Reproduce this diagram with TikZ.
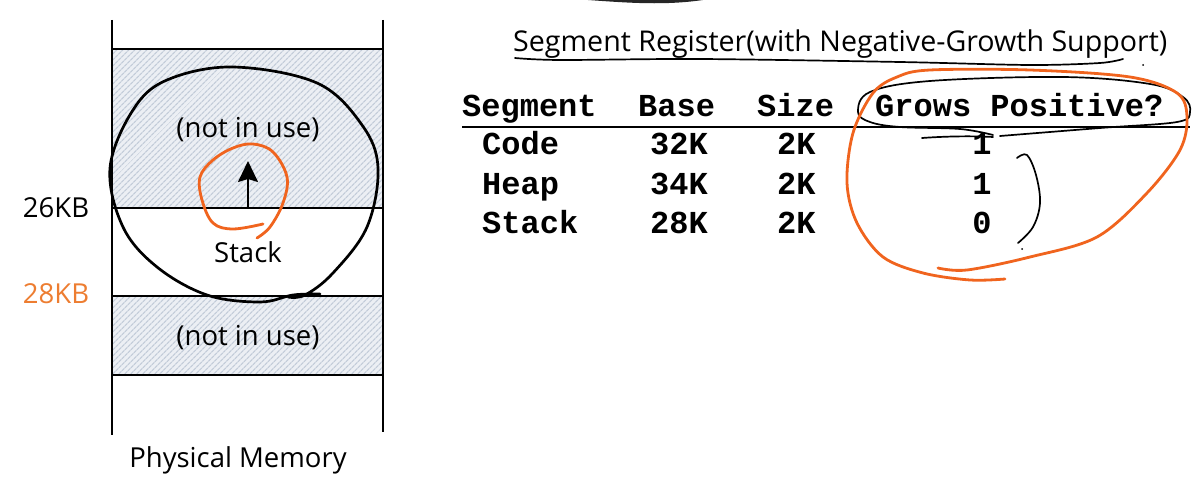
\documentclass[tikz,border=0pt]{standalone}
\usepackage{fontspec}
\setmainfont{Open Sans}
\newfontfamily\tablefont{Liberation Mono}
\usetikzlibrary{patterns.meta,arrows.meta}

\definecolor{hatchbg}{HTML}{ECEFF4}
\definecolor{hatchline}{HTML}{C3CCD9}
\definecolor{kborange}{HTML}{ED7D31}
\definecolor{penorange}{HTML}{F0641E}

\tikzset{
  lbl/.style={font=\fontsize{27.5}{32}\selectfont, inner sep=0pt, anchor=base},
  tbl/.style={font=\tablefont\bfseries\fontsize{32}{36}\selectfont, inner sep=0pt, anchor=base west},
  tblc/.style={tbl, anchor=base},
  memline/.style={line width=1.6pt},
  unused/.style={fill=hatchbg},
  unusedlines/.style={pattern={Lines[angle=45,distance=4pt,line width=1.3pt]}, pattern color=hatchline},
  pen/.style={line width=2.7pt, line cap=round, line join=round},
  thinpen/.style={line width=1.7pt, line cap=round, line join=round},
  orangepen/.style={pen, draw=penorange, line width=2.8pt},
}

\begin{document}
\begin{tikzpicture}[x=1pt, y=-1pt]
\useasboundingbox (0,0) rectangle (1197,484);

% ---------- physical memory ----------
\foreach \ya/\yb in {49/208, 296/375} {
  \fill[unused] (112,\ya) rectangle (383,\yb);
  \fill[unusedlines] (112,\ya) rectangle (383,\yb);
}
\draw[memline] (112,20) -- (112,435);
\draw[memline] (383,20) -- (383,432);
\foreach \y in {49,208,296,375}
  \draw[memline] (112,\y) -- (383,\y);

\node[lbl] (free1) at (248,138) {(not in use)};
\node[lbl] (free2) at (248,345) {(not in use)};
\node[lbl] (stack) at (248,262) {Stack};
\node[lbl] (kb26) at (56,217) {26KB};
\node[lbl, text=kborange] (kb28) at (56,303) {28KB};
\node[lbl] (physmem) at (238,467) {Physical Memory};

% stack grows downward: arrow points up
\coordinate (stackbase) at (248,208);
\coordinate (stacktip) at (248,161);
\draw[line width=1.9pt, -{Stealth[length=21pt,width=20pt,inset=3pt]}] (stackbase) -- (stacktip);

% hand-drawn loop around the stack region
\draw[pen] plot[smooth, tension=0.6] coordinates {
  (320,294) (293,295) (260,302) (207,295) (157,267) (123,227) (110,168)
  (133,110) (167,80) (233,67) (317,83) (362,125) (378,168) (367,227)
  (333,273) (305,295) (288,297)};

% orange loop around the arrow
\draw[orangepen] plot[smooth, tension=0.6] coordinates {
  (263,224) (233,229) (213,223) (202,200) (200,177) (213,160) (233,148)
  (253,144) (273,152) (287,177) (283,203) (270,227) (257,238)};

% ---------- segment register table ----------
\node[lbl, anchor=base west, font=\fontsize{28.6}{32}\selectfont] (title) at (513,52)
  {Segment Register(with Negative-Growth Support)};
\draw[thinpen] plot[smooth, tension=0.5] coordinates {
  (515,58) (560,60) (700,59) (900,62) (1030,65) (1100,63) (1123,59)};
\fill (1143,65) circle (1pt);
% tail of a pen stroke at the top edge
\fill[black!85] (588,0) .. controls (630,3) and (665,5.5) .. (703,0) -- cycle;

\node[tbl] (hseg) at (462,117) {Segment};
\node[tbl] (hbase) at (638,117) {Base};
\node[tbl] (hsize) at (757,117) {Size};
\node[tbl] (hgrow) at (875,117) {Grows Positive?};
\draw[line width=2.4pt] (462,127) -- (1190,127);

\node[tbl] (code) at (482,155) {Code};
\node[tbl] (codebase) at (650,155) {32K};
\node[tbl] (codesize) at (777,155) {2K};
\node[tblc] (codegrow) at (982,155) {1};
\node[tbl] (heap) at (482,194) {Heap};
\node[tbl] (heapbase) at (650,194) {34K};
\node[tbl] (heapsize) at (777,194) {2K};
\node[tblc] (heapgrow) at (982,194) {1};
\node[tbl] (stk) at (482,233) {Stack};
\node[tbl] (stkbase) at (650,233) {28K};
\node[tbl] (stksize) at (777,233) {2K};
\node[tblc] (stkgrow) at (982,233) {0};

% black loop around the "Grows Positive?" heading
\draw[thinpen] plot[smooth, tension=0.6] coordinates {
  (993,135) (960,129) (900,127) (870,122) (858,112) (870,92) (930,81)
  (1063,77) (1150,84) (1183,97) (1190,112) (1177,122) (1100,128) (1000,136)};
\draw[thinpen] (922,138) .. controls (950,136) and (975,136) .. (993,137);

% bracket beside the values
\draw[thinpen] plot[smooth, tension=0.6] coordinates {
  (1017,158) (1027,155) (1036,175) (1040,203) (1033,227) (1018,243)};
\fill (1022,249) circle (1pt);

% orange loop around the growth column
\draw[orangepen] plot[smooth, tension=0.55] coordinates {
  (938,268) (967,270) (1030,257) (1097,237) (1147,193) (1180,150) (1187,117)
  (1177,93) (1130,77) (1030,70) (930,70) (897,77) (873,93) (853,133)
  (847,183) (857,223) (883,257) (923,273) (970,280) (1005,279)};
\end{tikzpicture}
\end{document}
